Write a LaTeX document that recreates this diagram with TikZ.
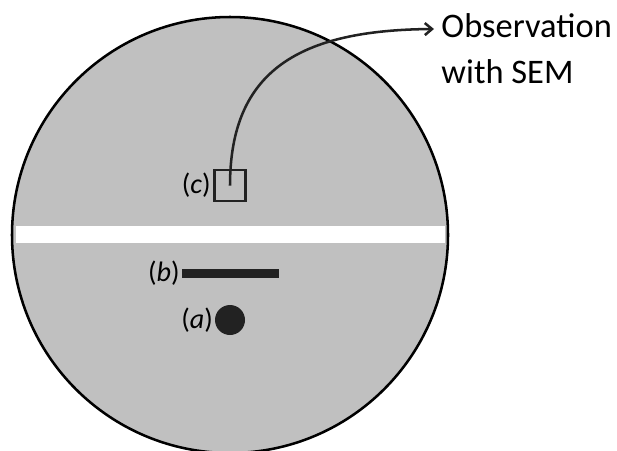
\documentclass[tikz,border=0pt]{standalone}
\usepackage{fontspec}
\setmainfont{Carlito}
\usepackage{tikz}
\usetikzlibrary{arrows.meta, positioning}
\usepackage{xcolor}
\definecolor{sample}{RGB}{192,192,192}
\definecolor{ink}{RGB}{34,34,34}

\begin{document}
\begin{tikzpicture}[every node/.style={font=\fontsize{20}{22}\selectfont},
  disc/.style={circle, draw=black, fill=sample, line width=1.8pt,
               minimum size=10.9cm, inner sep=0pt},
  win/.style={draw=ink, line width=1.6pt, minimum size=0.78cm, inner sep=0pt},
  bar/.style={fill=ink, minimum width=2.43cm, minimum height=0.23cm, inner sep=0pt},
  spot/.style={circle, fill=ink, minimum size=0.75cm, inner sep=0pt},
  lbl/.style={inner sep=0pt}]

  \useasboundingbox (0,0) rectangle (15.425,-11.25);
  \clip (0,0) rectangle (15.425,-11.25);

  \node[disc] (disc) at (5.75,-5.875) {};
  % cut through the sample
  \fill[white] (0.4,-5.65) rectangle (11.125,-6.075);

  \node[win] (sq) at (5.75,-4.64) {};
  \node[bar] (line) at (5.76,-6.84) {};
  \node[spot] (dot) at (5.75,-8.0) {};

  \node[lbl, left=0.06cm of sq] (lc) {(\textit{c})};
  \node[lbl, left=0.04cm of line] (lb) {(\textit{b})};
  \node[lbl, left=0.04cm of dot] (la) {(\textit{a})};

  \node[align=left, anchor=north west, inner sep=0pt,
        font=\fontsize{24.5}{32.7}\selectfont] (obs) at (11.03,-0.33)
       {Observation\\with SEM};
  \coordinate (tip) at (10.85,-0.725);

  \draw[ink, line width=1.8pt, -{Straight Barb[length=1.8mm, width=3mm]}]
     (sq.center) .. controls (5.75,-1.75) and (7.5,-0.75) .. (tip);
\end{tikzpicture}
\end{document}
